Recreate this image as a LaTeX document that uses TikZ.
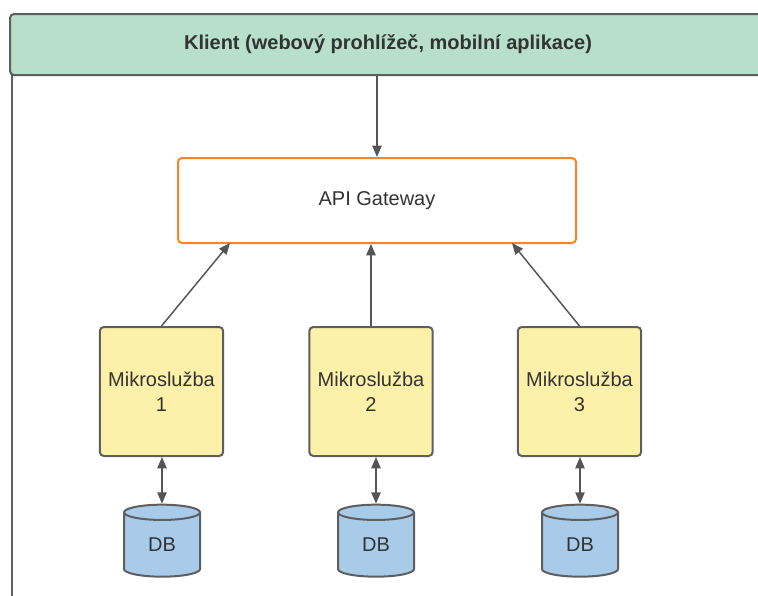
\documentclass[tikz,border=0pt]{standalone}
\usepackage{fontspec}
\setmainfont{Liberation Sans}
\usetikzlibrary{arrows.meta,shapes.geometric}
\definecolor{framegray}{HTML}{5E5E5E}
\definecolor{linegray}{HTML}{555555}
\definecolor{txt}{HTML}{333333}
\definecolor{mint}{HTML}{B7DFCB}
\definecolor{gworange}{HTML}{F5842F}
\definecolor{svcyellow}{HTML}{FDF0A8}
\definecolor{dbblue}{HTML}{A9CBEA}
\tikzset{
  x=0.75pt, y=-0.75pt,
  header/.style={draw=framegray, fill=mint, line width=1.5pt, rounded corners=3pt,
    minimum width=567pt, minimum height=45.75pt, inner sep=0pt,
    font=\fontsize{15}{18}\selectfont\bfseries, text=txt},
  gateway/.style={draw=gworange, fill=white, line width=1.5pt, rounded corners=3pt,
    minimum width=298.5pt, minimum height=63.75pt, inner sep=0pt,
    font=\fontsize{15}{18}\selectfont, text=txt},
  service/.style={draw=framegray, fill=svcyellow, line width=1.5pt, rounded corners=3pt,
    minimum width=92.5pt, minimum height=96.75pt, inner sep=0pt, align=center,
    font=\fontsize{15}{18.5}\selectfont, text=txt},
  db/.style={cylinder, shape border rotate=90, aspect=0.55, draw=framegray, fill=dbblue,
    line width=1.5pt, minimum width=57pt, minimum height=54pt, inner sep=0pt,
    font=\fontsize{15}{18}\selectfont, text=txt},
  tip/.tip={Triangle[length=8.5pt,width=7pt]},
  arr/.style={draw=linegray, line width=1.1pt, -tip},
  dblarr/.style={draw=linegray, line width=1.1pt, tip-tip},
}
\begin{document}
\begin{tikzpicture}
\useasboundingbox (0,0) rectangle (758,596);
\clip (0,0) rectangle (758,596);

% client container: header bar and left side of its frame
\draw[framegray, line width=1.5pt] (12,70) -- (12,620);
\node[header] (klient) at (388,44.5) {Klient (webový prohlížeč, mobilní aplikace)};

% gateway
\node[gateway] (gw) at (377,200.5) {API Gateway};

% microservices
\node[service] (s1) at (161.5,391.5) {Mikroslužba\\1};
\node[service] (s2) at (371,391.5) {Mikroslužba\\2};
\node[service] (s3) at (579.5,391.5) {Mikroslužba\\3};

% databases
\node[db] (d1) at (162,545) {DB};
\node[db] (d2) at (376,545) {DB};
\node[db] (d3) at (580,545) {DB};

% attachment points on the gateway's lower edge
\coordinate (g1) at (230,243);
\coordinate (g3) at (512,243);

% connectors
\draw[arr] (gw.north |- klient.south) -- (gw.north);
\draw[arr] (s1.north) -- (g1);
\draw[arr] (s2.north) -- (s2.north |- gw.south);
\draw[arr] (s3.north) -- (g3);

\draw[dblarr] (d1.north |- s1.south) -- (d1.north);
\draw[dblarr] (d2.north |- s2.south) -- (d2.north);
\draw[dblarr] (d3.north |- s3.south) -- (d3.north);
\end{tikzpicture}
\end{document}
